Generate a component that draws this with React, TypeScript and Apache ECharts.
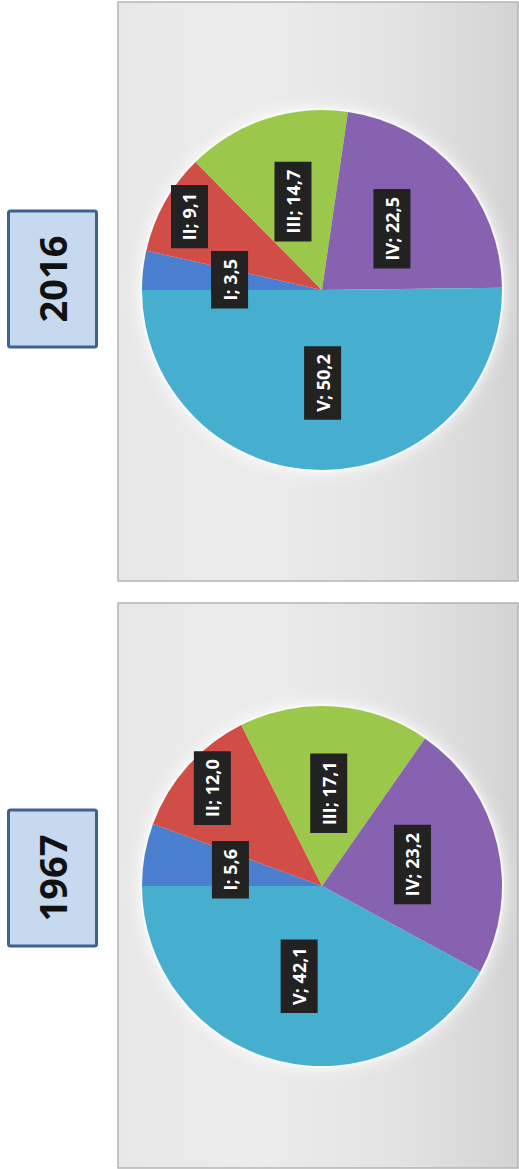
import React, { useEffect, useRef } from "react";
import * as echarts from "echarts";

const categories = ["I", "II", "III", "IV", "V"];
const values2016 = [3.5, 9.1, 14.7, 22.5, 50.2];
const values1967 = [5.6, 12.0, 17.1, 23.2, 42.1];
const years = ["2016", "1967"];

const sliceColors = ["#4a7fcf", "#d14d48", "#9bc84b", "#8662b0", "#46aece"];
// label radial stretch (Excel "best fit" moved label II outward)
const labelStretch2016 = [1, 1.65, 1, 1, 1];
const labelStretch1967 = [1, 1.6, 1, 1, 1];

const PIE_R = 180;
const START = 180;

function fmt(v: number) {
  return v.toFixed(1).replace(".", ",");
}

function labelOffsets(values: number[], stretch: number[], r: number) {
  const total = values.reduce((a, b) => a + b, 0);
  let cum = 0;
  return values.map((v, i) => {
    const mid = ((START + ((cum + v / 2) / total) * 360) * Math.PI) / 180;
    cum += v;
    const d = (stretch[i] - 1) * (r / 2);
    const sx = d * Math.cos(mid);
    const sy = d * Math.sin(mid);
    // label is rotated 90deg CCW; dx/dy act in its local frame
    return { dx: -sy, dy: sx };
  });
}

function panel(y: number, h: number) {
  return {
    type: "rect",
    z: 0,
    shape: { x: 118, y, width: 400, height: h },
    style: {
      fill: new echarts.graphic.LinearGradient(0, 0, 1, 0, [
        { offset: 0, color: "#e8e8e8" },
        { offset: 0.35, color: "#ececec" },
        { offset: 0.7, color: "#e3e3e3" },
        { offset: 1, color: "#d3d3d3" },
      ]),
      stroke: "#b4b4b4",
      lineWidth: 1.5,
    },
  };
}

function yearBox(y: number, h: number, text: string) {
  return [
    {
      type: "rect",
      z: 0,
      shape: { x: 8.5, y, width: 88, height: h, r: 2 },
      style: { fill: "#c6d9ee", stroke: "#3f6190", lineWidth: 3 },
    },
    {
      type: "text",
      z: 1,
      x: 52,
      y: y + h / 2,
      rotation: Math.PI / 2,
      style: {
        text,
        font: "bold 38px 'Open Sans', sans-serif",
        fill: "#111",
        align: "center",
        verticalAlign: "middle",
      },
    },
  ];
}

function pieSeries(values: number[], stretch: number[], center: number[]) {
  const offs = labelOffsets(values, stretch, PIE_R);
  return [
    {
      type: "pie",
      silent: true,
      z: 1,
      center,
      radius: PIE_R + 2,
      startAngle: START,
      data: [{ value: 1 }],
      label: { show: false },
      labelLine: { show: false },
      itemStyle: {
        color: "rgba(250,250,250,0.9)",
        shadowBlur: 16,
        shadowColor: "rgba(255,255,255,1)",
      },
      emphasis: { disabled: true },
    },
    {
      type: "pie",
      z: 2,
      center,
      radius: PIE_R,
      startAngle: START,
      clockwise: true,
      avoidLabelOverlap: false,
      data: categories.map((c, i) => ({
        name: c,
        value: values[i],
        itemStyle: { color: sliceColors[i] },
      })),
      itemStyle: { borderWidth: 0 },
      label: {
        show: true,
        position: "inside",
        rotate: 90,
        formatter: (p: any) => `${p.name}; ${fmt(p.value)}`,
        color: "#ffffff",
        fontFamily: "'Open Sans', sans-serif",
        fontWeight: "bold",
        fontSize: 18,
        backgroundColor: "#222222",
        padding: [9, 8, 7, 8],
        lineHeight: 21,
      },
      labelLine: { show: false },
      labelLayout: (params: any) => ({
        dx: offs[params.dataIndex].dx,
        dy: offs[params.dataIndex].dy,
      }),
      emphasis: { disabled: true },
    },
  ];
}

export default function App() {
  const ref = useRef<HTMLDivElement>(null);
  useEffect(() => {
    if (!ref.current) return;
    const chart = echarts.init(ref.current, undefined, { renderer: "svg" });
    chart.setOption({
      animation: false,
      backgroundColor: "#ffffff",
      graphic: [
        panel(2, 579),
        panel(603, 565),
        ...yearBox(211, 136, years[0]),
        ...yearBox(810, 136, years[1]),
      ],
      series: [
        ...pieSeries(values2016, labelStretch2016, [322, 290]),
        ...pieSeries(values1967, labelStretch1967, [322, 886]),
      ],
    });
    return () => chart.dispose();
  }, []);
  return (
    <div
      ref={ref}
      style={{ position: "absolute", left: 0, top: 0, width: 519, height: 1169 }}
    />
  );
}
